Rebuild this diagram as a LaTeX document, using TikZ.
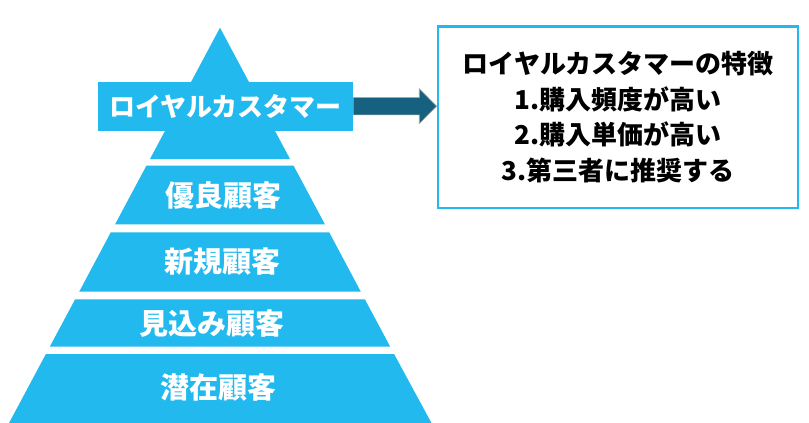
\documentclass[tikz,border=0pt]{standalone}
\usepackage{fontspec}
\setmainfont{Noto Sans CJK JP}
\usetikzlibrary{calc}
\definecolor{pyrblue}{RGB}{33,185,238}
\definecolor{arrblue}{RGB}{22,96,128}
\tikzset{
  layer/.style={fill=pyrblue, draw=none},
  lbl/.style={text=white, font=\fontsize{29}{32}\selectfont\bfseries, inner sep=0pt},
  royalbox/.style={fill=pyrblue, draw=none, minimum width=255pt, minimum height=49pt, inner sep=0pt,
    text=white, font=\fontsize{26}{30}\selectfont\bfseries},
  infobox/.style={draw=pyrblue, line width=2.7pt, fill=white, minimum width=360pt, minimum height=181.7pt,
    align=center, inner sep=0pt, font=\fontsize{26}{35.5}\selectfont\bfseries},
  arrowsty/.style={fill=arrblue, draw=gray!70, line width=0.6pt}
}
\begin{document}
\begin{tikzpicture}[x=1pt,y=-1pt]
\useasboundingbox (0,0) rectangle (809,423);
% pyramid layers
\fill[layer] (220,27.7) -- (290,159) -- (150,159) -- cycle;
\fill[layer] (146.4,165.7) -- (293.6,165.7) -- (324.9,224.3) -- (115.1,224.3) -- cycle;
\fill[layer] (110.8,232.3) -- (329.2,232.3) -- (360.8,291.7) -- (79.2,291.7) -- cycle;
\fill[layer] (75.1,299.3) -- (364.9,299.3) -- (390.2,346.7) -- (49.8,346.7) -- cycle;
\fill[layer] (45.9,354) -- (394.1,354) -- (432,424) -- (8.5,424) -- cycle;
% labels
\node[lbl] (good) at (223,195) {優良顧客};
\node[lbl] (new) at (222.5,262) {新規顧客};
\node[lbl] (pros) at (212,323.5) {見込み顧客};
\node[lbl] (pot) at (218,387) {潜在顧客};
\node[royalbox] (royal) at (225.5,106.2) {ロイヤルカスタマー};
% info box
\node[infobox] (info) at (618,117.2) {ロイヤルカスタマーの特徴\\1.購入頻度が高い\\2.購入単価が高い\\3.第三者に推奨する};
% arrow
\coordinate (tip) at (royal.east -| info.west);
\filldraw[arrowsty] ($(royal.east)+(0,-8.7)$) -- ($(tip)+(-17.4,-8.7)$) -- ($(tip)+(-17.4,-17.5)$) -- (tip)
  -- ($(tip)+(-17.4,17.5)$) -- ($(tip)+(-17.4,8.7)$) -- ($(royal.east)+(0,8.7)$) -- cycle;
\end{tikzpicture}
\end{document}
